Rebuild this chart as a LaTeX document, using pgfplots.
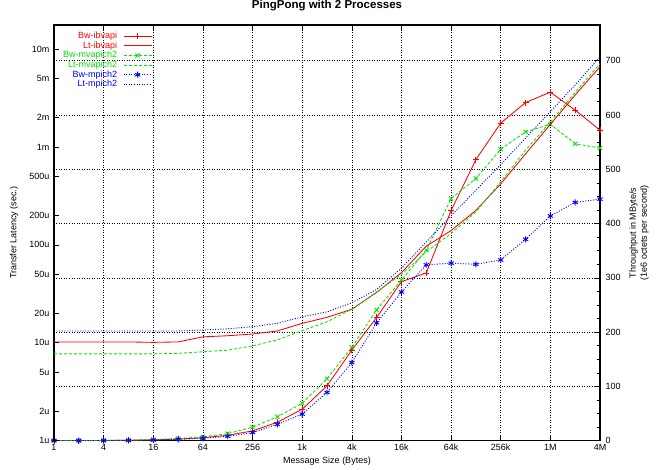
\documentclass[border=0pt]{standalone}
\usepackage{fontspec}
\setmainfont{Liberation Sans}
\usepackage{pgfplots}
\pgfplotsset{compat=1.18}
\definecolor{gpred}{RGB}{255,0,0}
\definecolor{gpgreen}{RGB}{0,230,0}
\definecolor{gpblue}{RGB}{0,0,255}

\tikzset{
  ibvline/.style={gpred, line width=0.85pt, solid},
  mvline/.style={gpgreen, line width=0.85pt, dash pattern=on 3pt off 2pt},
  mpline/.style={gpblue, line width=0.9pt, dash pattern=on 1pt off 1.6pt},
}

\begin{document}
\begin{tikzpicture}
% throughput, right axis (linear), grid and frame
\begin{axis}[name=bw,
  scale only axis, width=546pt, height=415.7pt,
  xmode=log, log basis x=2, xmin=1, xmax=4194304,
  tick align=inside, major tick length=5pt, minor tick length=3pt,
  axis line style={line width=1.2pt},
  tick style={black, line width=0.6pt},
  tick label style={font=\fontsize{9}{10}\selectfont},
  /pgf/number format/assume math mode=true,
  ymin=0, ymax=765.8,
  xtick={1,4,16,64,256,1024,4096,16384,65536,262144,1048576,4194304},
  xticklabels={1,4,16,64,256,1k,4k,16k,64k,256k,1M,4M},
  xminorticks=false,
  ytick={0,100,...,700}, minor y tick num=3,
  ytick pos=right, yticklabel pos=right,
  yticklabel style={xshift=2pt},
  xmajorgrids, ymajorgrids,
  grid style={black, line width=0.5pt, dash pattern=on 0.8pt off 1.7pt},
  xlabel={Message Size (Bytes)},
  xlabel style={at={(rel axis cs:0.5,0)}, anchor=center, yshift=-20.5pt, font=\fontsize{9}{11}\selectfont},
  ylabel={Throughput in MByte/s\\(1e6 octets per second)},
  ylabel style={at={(rel axis cs:1.0714,0.5)}, anchor=center, align=center, font=\fontsize{9}{11}\selectfont},
  title={PingPong with 2 Processes},
  title style={at={(rel axis cs:0.5,1)}, anchor=center, yshift=13pt, font=\bfseries\fontsize{11.5}{12}\selectfont},
]
\addplot[ibvline, mark=+, mark size=3pt] coordinates {
 (1,0.1) (2,0.2) (4,0.4) (8,0.8) (16,1.6) (32,3.1) (64,5.5) (128,10) (256,18) (512,34)
 (1024,58) (2048,101) (4096,167) (8192,227) (16384,293) (32768,309) (65536,424)
 (131072,518) (262144,585) (524288,623) (1048576,642) (2097152,609) (4194304,572)};
\addplot[mvline, mark=x, mark size=3pt, mark options={solid}] coordinates {
 (1,0.13) (2,0.26) (4,0.5) (8,1) (16,2) (32,4) (64,7) (128,13) (256,25) (512,44)
 (1024,69) (2048,114) (4096,172) (8192,241) (16384,296) (32768,351) (65536,446)
 (131072,483) (262144,537) (524288,569) (1048576,583) (2097152,547) (4194304,539)};
\addplot[mpline, mark=asterisk, mark size=3pt, mark options={solid, line width=0.9pt}] coordinates {
 (1,0.08) (2,0.15) (4,0.3) (8,0.6) (16,1.2) (32,2.4) (64,4.5) (128,8) (256,15) (512,30)
 (1024,49) (2048,89) (4096,144) (8192,217) (16384,274) (32768,324) (65536,327)
 (131072,325) (262144,333) (524288,371) (1048576,414) (2097152,439) (4194304,445)};
\end{axis}

% latency, left axis (log)
\begin{axis}[name=lt,
  scale only axis, width=546pt, height=415.7pt,
  xmode=log, log basis x=2, xmin=1, xmax=4194304,
  tick align=inside, major tick length=5pt,
  axis line style={line width=1.2pt},
  tick style={black, line width=0.6pt},
  tick label style={font=\fontsize{9}{10}\selectfont},
  ymode=log, ymin=1e-6, ymax=0.0176,
  axis x line=none, axis y line*=left,
  y axis line style={-},
  ytick={1e-6,2e-6,5e-6,1e-5,2e-5,5e-5,1e-4,2e-4,5e-4,1e-3,2e-3,5e-3,1e-2},
  yticklabels={1u,2u,5u,10u,20u,50u,100u,200u,500u,1m,2m,5m,10m},
  yminorticks=false,
  yticklabel style={xshift=-1pt},
  ylabel={Transfer Latency (sec.)},
  ylabel style={at={(rel axis cs:-0.0733,0.5)}, anchor=center, font=\fontsize{9}{11}\selectfont},
  legend plot pos=right,
  legend cell align=right,
  legend image code/.code={\draw[mark repeat=2, mark phase=2, #1] plot coordinates {(0pt,0pt) (14pt,0pt) (28pt,0pt)};},
  legend style={draw=none, fill=none, inner sep=0pt, outer sep=0pt,
    at={(0.1795,0.9875)}, anchor=north east,
    font=\fontsize{9}{10}\selectfont, row sep=-2.4pt, /tikz/column sep=4pt},
]
\addlegendimage{ibvline, mark=+, mark size=3pt}
\addlegendentry{\textcolor{gpred}{Bw-ibvapi}}
\addplot[ibvline] coordinates {
 (1,10.2e-6) (2,10.2e-6) (4,10.2e-6) (8,10.2e-6) (16,10.1e-6) (32,10.2e-6) (64,11.5e-6)
 (128,11.8e-6) (256,12.3e-6) (512,13.2e-6) (1024,15.8e-6) (2048,18.2e-6) (4096,22e-6)
 (8192,32.7e-6) (16384,52e-6) (32768,97e-6) (65536,140e-6) (131072,225e-6)
 (262144,420e-6) (524288,850e-6) (1048576,1.7e-3) (2097152,3.4e-3) (4194304,6.6e-3)};
\addlegendentry{\textcolor{gpred}{Lt-ibvapi}}
\addlegendimage{mvline, mark=x, mark size=3pt, mark options={solid}}
\addlegendentry{\textcolor{gpgreen}{Bw-mvapich2}}
\addplot[mvline] coordinates {
 (1,7.7e-6) (2,7.7e-6) (4,7.7e-6) (8,7.7e-6) (16,7.7e-6) (32,7.8e-6) (64,8.1e-6)
 (128,8.4e-6) (256,9.3e-6) (512,10.7e-6) (1024,13.3e-6) (2048,16.4e-6) (4096,22e-6)
 (8192,33e-6) (16384,50e-6) (32768,85e-6) (65536,131e-6) (131072,217e-6)
 (262144,440e-6) (524288,925e-6) (1048576,1.8e-3) (2097152,3.6e-3) (4194304,7.1e-3)};
\addlegendentry{\textcolor{gpgreen}{Lt-mvapich2}}
\addlegendimage{mpline, mark=asterisk, mark size=3pt, mark options={solid, line width=0.9pt}}
\addlegendentry{\textcolor{gpblue}{Bw-mpich2}}
\addplot[mpline] coordinates {
 (1,13.2e-6) (2,13.2e-6) (4,13.2e-6) (8,13.2e-6) (16,13.2e-6) (32,13.2e-6) (64,13.5e-6)
 (128,13.9e-6) (256,14.6e-6) (512,15.8e-6) (1024,18.4e-6) (2048,20.7e-6) (4096,25.6e-6)
 (8192,35e-6) (16384,58e-6) (32768,107e-6) (65536,198e-6) (131072,362e-6)
 (262144,661e-6) (524288,1.23e-3) (1048576,2.3e-3) (2097152,4.3e-3) (4194304,8.3e-3)};
\addlegendentry{\textcolor{gpblue}{Lt-mpich2}}
\end{axis}

\pgfresetboundingbox
\path ([shift={(-54pt,-29.3pt)}]bw.south west) rectangle ([shift={(58pt,25pt)}]bw.north east);
\end{tikzpicture}
\end{document}
